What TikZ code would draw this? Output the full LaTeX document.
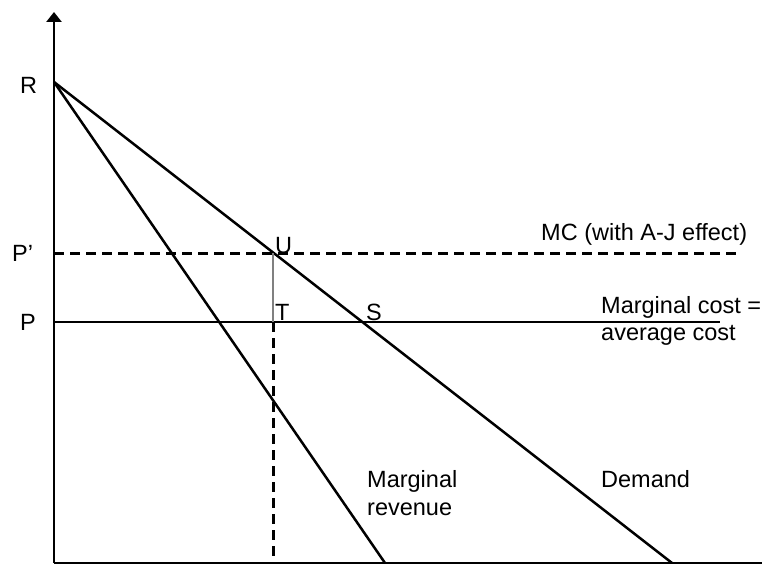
\documentclass[tikz,border=0pt]{standalone}
\usepackage{fontspec}
\setmainfont{Liberation Sans}
\usetikzlibrary{arrows.meta}
\begin{document}
\begin{tikzpicture}[x=1pt,y=-1pt,
  curve/.style={line width=2.5pt},
  axis/.style={line width=2.8pt},
  dashline/.style={line width=3pt,dash pattern=on 10pt off 6pt},
  lbl/.style={inner sep=0pt,anchor=base west,font=\fontsize{23.5}{26}\selectfont}]
\useasboundingbox (0,0) rectangle (762,564);
\coordinate (O) at (54,563);
\coordinate (top) at (54,12);
\coordinate (xend) at (762,563);
\coordinate (R) at (54,82);
\coordinate (Dend) at (672,563);
\coordinate (MRend) at (385,563);
\coordinate (Pl) at (54,322);
\coordinate (Pr) at (720,322);
\coordinate (Ppl) at (54,253);
\coordinate (Ppr) at (738,253);
\coordinate (U) at (273,253);
\coordinate (T) at (273,322);
\coordinate (Tb) at (273,563);
% axes
\draw[axis,-{Triangle[width=15pt,length=10pt]}] (O) -- (top);
\draw[axis] (O) -- (xend);
% curves
\draw[curve] (R) -- (Dend);
\draw[curve] (R) -- (MRend);
\draw[curve] (Pl) -- (Pr);
\draw[dashline] (Ppl) -- (Ppr);
\draw[gray,line width=1.2pt] (U) -- (T);
\draw[dashline] (T) -- (Tb);
% labels
\node[lbl] (lR) at (20,94) {R};
\node[lbl] (lPp) at (12,261) {P’};
\node[lbl] (lP) at (20,330) {P};
\node[lbl] (lU) at (275,253) {U};
\node[lbl] (lT) at (275,320) {T};
\node[lbl] (lS) at (366,320) {S};
\node[lbl] (lMC) at (541,240) {MC (with A-J effect)};
\node[lbl] (lMC1) at (601,313) {Marginal cost =};
\node[lbl] (lMC2) at (601,340) {average cost};
\node[lbl] (lMR1) at (367,487) {Marginal};
\node[lbl] (lMR2) at (367,515) {revenue};
\node[lbl] (lD) at (601,487) {Demand};
\end{tikzpicture}
\end{document}
